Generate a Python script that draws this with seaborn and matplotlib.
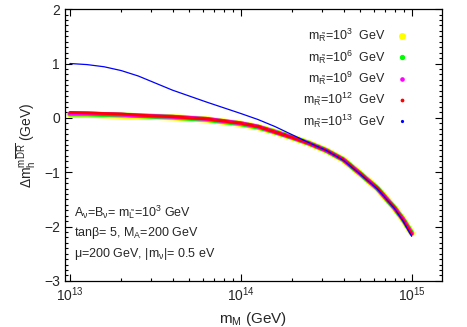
import numpy as np
import pandas as pd
import matplotlib.pyplot as plt
import seaborn as sns
from matplotlib.lines import Line2D
from matplotlib.ticker import MultipleLocator, LogLocator, NullFormatter

# log10 of m_M (GeV)
log_mM = [13.0, 13.1, 13.2, 13.3, 13.4, 13.6, 13.8, 14.0, 14.1, 14.2, 14.3,
          14.4, 14.5, 14.6, 14.7, 14.8, 14.9, 14.95, 15.0]

# Delta m_h (GeV) for each m_R
dm_R3 = [0.06, 0.06, 0.05, 0.04, 0.03, 0.01, -0.03, -0.11, -0.17, -0.26, -0.36,
         -0.47, -0.60, -0.77, -1.03, -1.30, -1.66, -1.87, -2.12]
dm_R6 = [0.07, 0.07, 0.06, 0.05, 0.04, 0.01, -0.03, -0.11, -0.17, -0.26, -0.36,
         -0.47, -0.60, -0.77, -1.03, -1.30, -1.66, -1.87, -2.12]
dm_R9 = [0.08, 0.08, 0.07, 0.06, 0.04, 0.02, -0.02, -0.10, -0.16, -0.26, -0.36,
         -0.47, -0.60, -0.77, -1.03, -1.30, -1.66, -1.87, -2.13]
dm_R12 = [0.10, 0.09, 0.08, 0.07, 0.05, 0.02, -0.02, -0.10, -0.16, -0.26, -0.36,
          -0.47, -0.60, -0.77, -1.03, -1.30, -1.66, -1.88, -2.14]
dm_R13 = [1.00, 0.98, 0.94, 0.87, 0.77, 0.51, 0.29, 0.08, -0.03, -0.16, -0.31,
          -0.46, -0.60, -0.78, -1.04, -1.31, -1.67, -1.90, -2.18]

labels = [r"m$_{\tilde{R}}$=10$^{3}$  GeV", r"m$_{\tilde{R}}$=10$^{6}$  GeV",
          r"m$_{\tilde{R}}$=10$^{9}$  GeV", r"m$_{\tilde{R}}$=10$^{12}$  GeV",
          r"m$_{\tilde{R}}$=10$^{13}$  GeV"]
series = [dm_R3, dm_R6, dm_R9, dm_R12, dm_R13]
colors = ["#ffff00", "#00ff00", "#ff00ff", "#ff0000", "#0000ff"]
widths = [4.6, 3.6, 2.9, 2.0, 0.9]
msizes = [4.0, 2.8, 2.3, 1.7, 1.3]

sns.set_theme(style="ticks")
plt.rcParams["font.family"] = ["Liberation Sans", "DejaVu Sans"]
plt.rcParams["mathtext.default"] = "regular"

fig = plt.figure(figsize=(4.67, 3.27), dpi=100)
ax = fig.add_axes([0.139, 0.141, 0.807, 0.831])

for lab, vals, c, w in zip(labels, series, colors, widths):
    df = pd.DataFrame({"m_M": 10.0 ** np.array(log_mM), "dm": vals})
    sns.lineplot(data=df, x="m_M", y="dm", color=c, linewidth=w, ax=ax)

ax.set_xscale("log")
ax.set_xlim(9.35e12, 1.5e15)
ax.set_ylim(-3, 2)
ax.yaxis.set_major_locator(MultipleLocator(1))
ax.yaxis.set_minor_locator(MultipleLocator(0.1))
ax.xaxis.set_major_locator(LogLocator(base=10, numticks=10))
ax.xaxis.set_minor_locator(LogLocator(base=10, subs=np.arange(2, 10), numticks=20))
ax.xaxis.set_minor_formatter(NullFormatter())
ax.tick_params(which="both", direction="in", top=True, right=True, labelsize=10,
               color="black", width=0.8)
ax.tick_params(which="major", length=5)
ax.tick_params(which="minor", length=2.5)
for s in ax.spines.values():
    s.set_color("black")
    s.set_linewidth(0.9)

ax.set_xlabel(r"m$_M$ (GeV)", fontsize=11)
ax.set_ylabel(r"$\Delta$m$_h^{m\overline{DR}}$ (GeV)", fontsize=10)

handles = [Line2D([], [], linestyle="none", marker="o", color=c, markersize=m)
           for c, m in zip(colors, msizes)]
ax.legend(handles, labels, loc="upper right", frameon=False, markerfirst=False,
          fontsize=9, labelspacing=0.32, handlelength=1.0, handletextpad=0.8,
          bbox_to_anchor=(0.94, 0.975))

ax.text(0.025, 0.235, r"A$_\nu$=B$_\nu$= m$_{\tilde{L}}$=10$^3$ GeV",
        transform=ax.transAxes, fontsize=9)
ax.text(0.025, 0.165, r"tan$\beta$= 5, M$_A$=200 GeV",
        transform=ax.transAxes, fontsize=9)
ax.text(0.025, 0.088, r"$\mu$=200 GeV, |m$_\nu$|= 0.5 eV",
        transform=ax.transAxes, fontsize=9)

fig.savefig("out.png", dpi=100)
